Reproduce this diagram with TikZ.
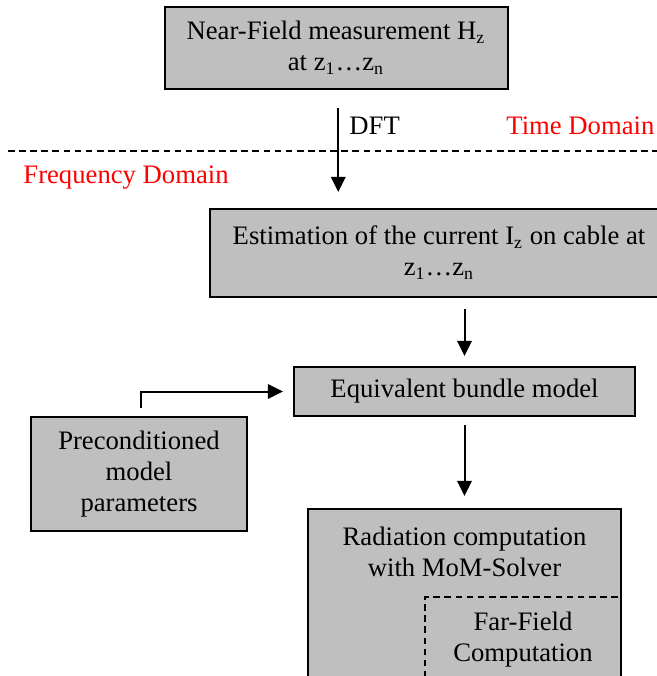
\documentclass[tikz,border=0pt]{standalone}
\usepackage{fontspec}
\setmainfont{Liberation Serif}
\usetikzlibrary{arrows.meta}

\begin{document}
\begin{tikzpicture}[x=0.45pt,y=-0.45pt,font=\fontsize{12}{14}\selectfont,
        box/.style={draw,fill=black!25,line width=0.9pt,inner sep=0pt,align=center},
        flow/.style={-{Triangle[length=6.8pt,width=6.5pt]},line width=0.9pt},
        domainlabel/.style={text=red,inner sep=0pt,anchor=base west}]
        \useasboundingbox (0,0) rectangle (657,676);
        \clip (0,0) rectangle (657,676);
        \node[box,minimum width={343*0.45},minimum height={82*0.45}] (meas) at (336,48) {Near-Field measurement H\textsubscript{z}\\at z\textsubscript{1}\ldots z\textsubscript{n}};
        \node[box,minimum width={458*0.45},minimum height={88*0.45}] (est) at (439,253) {Estimation of the current I\textsubscript{z} on cable at\\z\textsubscript{1}\ldots z\textsubscript{n}};
        \node[box,minimum width={341*0.45},minimum height={49*0.45}] (bundle) at (464.5,391.5) {Equivalent bundle model};
        \node[box,minimum width={216*0.45},minimum height={114*0.45}] (param) at (139,474) {Preconditioned\\model\\parameters};
        \node[box,minimum width={313*0.45},minimum height={211*0.45}] (mom) at (464.5,614.5) {};
        \node[align=center,inner sep=0pt] (momtext) at (464.5,551.5) {Radiation computation\\with MoM-Solver};
        \node[draw,line width=0.9pt,dash pattern=on 3pt off 2pt,minimum width={196*0.45},minimum height={123*0.45},inner sep=0pt] (far) at (523,658.5) {};
        \node[align=center,inner sep=0pt] (fartext) at (523,639.5) {Far-Field\\Computation};
        % time / frequency split
        \draw[line width=0.9pt,dash pattern=on 3pt off 2pt] (8,151) -- (657,151);
        \node[inner sep=0pt,anchor=base west] (dft) at (349,135) {DFT};
        \node[domainlabel] (time) at (506,135) {Time Domain};
        \node[domainlabel] (freq) at (23,183) {Frequency Domain};
        \draw[flow,shorten <=18*0.45,shorten >=16*0.45] ([xshift=1pt]meas.south) -- ([xshift=1pt]meas.south |- est.north);
        \draw[flow,shorten <=11*0.45,shorten >=10*0.45] (est.south -| bundle) -- (bundle.north);
        \draw[flow,shorten <=8*0.45,shorten >=12*0.45] (bundle.south) -- (mom.north);
        \draw[flow,shorten <=8*0.45,shorten >=10*0.45] ([xshift=1pt]param.north) |- (bundle.west);
      \end{tikzpicture}
\end{document}
